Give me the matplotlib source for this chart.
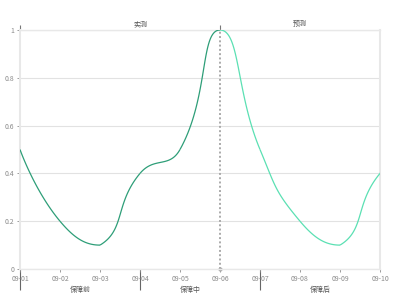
import numpy as np
import matplotlib
matplotlib.use('Agg')
from matplotlib import pyplot as plt

plt.rcParams['font.family'] = ['Noto Sans CJK SC', 'DejaVu Sans']

# data
dates = ['09-01', '09-02', '09-03', '09-04', '09-05',
         '09-06', '09-07', '09-08', '09-09', '09-10']
values = [0.5, 0.2, 0.1, 0.4, 0.5, 1.0, 0.5, 0.2, 0.1, 0.4]
nextValue = 0.5  # series goes on past 09-10 (outside the visible range)
splitIdx = 5  # 09-06, measured -> forecast
phaseEdges = [0, 3, 6]
phaseLabels = ['保障前', '保障中', '保障后']
phasePos = [1.5, 4.25, 7.5]
topEdges = [0, 5]
topLabels = ['实测', '预测']
topPos = [3, 7]
yTicks = [0, 0.2, 0.4, 0.6, 0.8, 1.0]
yTickLabels = ['0', '0.2', '0.4', '0.6', '0.8', '1']

darkColor = '#2e9e78'
lightColor = '#5be0b3'
labelColor = '#8a8a8a'

fig = plt.figure(figsize=(4, 3), dpi=100)
ax = fig.add_axes([0.05, 0.1033, 0.9, 0.7967])

######### smoothing like an echarts smooth line (pixel space, bbox clamped)
series = values + [nextValue]
n = len(series)
pxX = ax.get_position().width * 400 / (len(dates) - 1)
pxY = ax.get_position().height * 300
pts = np.column_stack([np.arange(n) * pxX, np.array(series) * pxY])
smooth = 0.5
lo, hi = pts.min(axis=0), pts.max(axis=0)
cp0 = pts[0].copy()
segs = []
for idx in range(1, n):
    p = pts[idx]
    prev = pts[idx - 1]
    if idx + 1 < n:
        nxt = pts[idx + 1]
        v = nxt - prev
        d0 = np.hypot(*(p - prev))
        d1 = np.hypot(*(p - nxt))
        r = d1 / (d0 + d1)
        cp1 = p - v * smooth * (1 - r)
    else:
        v = np.zeros(2)
        r = 0.5
        cp1 = p.copy()
    cp0 = np.clip(cp0, lo, hi)
    cp1 = np.clip(cp1, lo, hi)
    segs.append((prev, cp0.copy(), cp1.copy(), p))
    cp0 = p + v * smooth * r

t = np.linspace(0, 1, 40)[:, None]
for i, (a, b, c, d) in enumerate(segs):
    curve = ((1 - t) ** 3) * a + 3 * ((1 - t) ** 2) * t * b + 3 * (1 - t) * t ** 2 * c + t ** 3 * d
    color = darkColor if i < splitIdx else lightColor
    ax.plot(curve[:, 0] / pxX, curve[:, 1] / pxY, color=color, lw=0.9,
            solid_capstyle='butt', zorder=3)

# divider between measured and forecast
ax.axvline(splitIdx, color='#aaaaaa', ls=(0, (1, 1.2)), lw=1.4, zorder=2)
ax.plot([splitIdx], [0], marker='o', ms=2, color='#aaaaaa', clip_on=False, zorder=2)

ax.set_xlim(0, len(dates) - 1)
ax.set_ylim(0, 1)
ax.set_yticks(yTicks, yTickLabels)
ax.set_xticks(range(len(dates)), dates)
ax.grid(axis='y', color='#e2e2e2', lw=0.8)
ax.set_axisbelow(True)
ax.tick_params(axis='both', labelsize=5, colors=labelColor, length=2.5, width=0.6, pad=1.5)
for side in ['left', 'right', 'top', 'bottom']:
    ax.spines[side].set_color('#e8e8e8')
    ax.spines[side].set_linewidth(1.5)
ax.spines['top'].set_linewidth(1.0)
ax.spines['bottom'].set_linewidth(1.0)

# bottom phase axis
sec = ax.secondary_xaxis('bottom')
sec.spines['bottom'].set_visible(False)
sec.set_xticks(phaseEdges, ['', '', ''])
sec.set_xticks(phasePos, phaseLabels, minor=True)
sec.tick_params(which='major', length=15, width=0.8, color='#666666')
sec.tick_params(which='minor', length=0, pad=12.5, labelsize=5, labelcolor='#555555')

# top measured / forecast axis
top = ax.secondary_xaxis('top')
top.spines['top'].set_visible(False)
top.set_xticks(topEdges, ['', ''])
top.set_xticks(topPos, topLabels, minor=True)
top.tick_params(which='major', length=3.5, width=0.8, color='#777777')
top.tick_params(which='minor', length=0, pad=1.5, labelsize=5, labelcolor='#555555')

plt.savefig('out.png', dpi=100)
